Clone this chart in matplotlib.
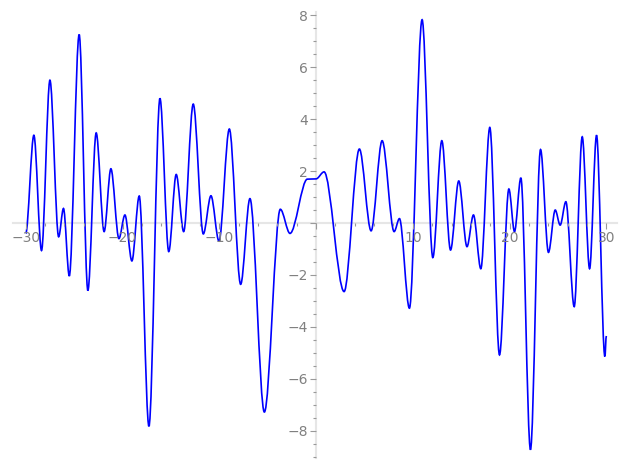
"""
Smooth wavy curve on origin-centred axes (Sage style).
Extrema read off the reference; drawn as cubic Bezier segments.
"""

import matplotlib
matplotlib.use("Agg")
import matplotlib.pyplot as plt
from matplotlib.path import Path
from matplotlib.patches import PathPatch
from matplotlib.ticker import MultipleLocator, FuncFormatter

# turning points of the curve (x, y)
x_pts = [-30.0, -29.16, -28.37, -27.5, -26.6, -26.1, -25.5, -24.48, -23.58,
         -22.72, -21.9, -21.2, -20.37, -19.75, -19.03, -18.27, -17.27, -16.13,
         -15.22, -14.45, -13.68, -12.69, -11.65, -10.86, -10.03, -8.96, -7.79,
         -6.83, -5.34, -3.69, -2.69, -0.9, 0.0, 0.83, 2.9, 4.48, 5.69, 6.83,
         8.07, 8.62, 9.65, 10.96, 12.07, 13.0, 13.9, 14.75, 15.6, 16.27, 17.03,
         17.96, 18.96, 19.93, 20.51, 21.17, 22.16, 23.2, 24.02, 24.72, 25.23,
         25.82, 26.68, 27.51, 28.27, 28.99, 29.85, 30.0]
y_pts = [-0.4, 3.38, -1.06, 5.5, -0.53, 0.56, -2.04, 7.26, -2.6,
         3.47, -0.33, 2.09, -0.6, 0.31, -1.46, 1.04, -7.83, 4.8,
         -1.1, 1.87, -0.33, 4.58, -0.42, 1.05, -0.7, 3.62, -2.36,
         0.94, -7.28, 0.53, -0.4, 1.69, 1.70, 1.97, -2.64, 2.85, -0.3, 3.17,
         -0.33, 0.17, -3.28, 7.83, -1.33, 3.17, -1.04, 1.62, -0.91, 0.31, -1.76,
         3.68, -5.08, 1.31, -0.33, 1.74, -8.73, 2.83, -1.13, 0.5, -0.08,
         0.82, -3.22, 3.32, -1.76, 3.38, -5.14, -4.35]

x_major = 10
x_minor = 2
y_major = 2
y_minor = 0.5

LABEL_GRAY = "#808080"
AXIS_GRAY = "#e6e6e6"


def curve_path(xs, ys):
    """Cubic Bezier through the turning points, flat tangent at each one."""
    verts = [(xs[0], ys[0])]
    codes = [Path.MOVETO]
    for i in range(1, len(xs)):
        dx = (xs[i] - xs[i - 1]) / 3.0
        verts += [(xs[i - 1] + dx, ys[i - 1]), (xs[i] - dx, ys[i]), (xs[i], ys[i])]
        codes += [Path.CURVE4] * 3
    return Path(verts, codes)


fig = plt.figure(figsize=(6.27, 4.69), dpi=100)
ax = fig.add_axes([0.021, 0.024, 0.963, 0.950])

ax.add_patch(PathPatch(curve_path(x_pts, y_pts), fill=False, edgecolor="#0000ff", lw=1.2))

ax.set_xlim(-31.3, 31.1)
ax.set_ylim(-9.04, 8.12)

for side in ("top", "right"):
    ax.spines[side].set_visible(False)
for side in ("left", "bottom"):
    ax.spines[side].set_position(("data", 0))
    ax.spines[side].set_color(AXIS_GRAY)
    ax.spines[side].set_linewidth(1.5)
ax.spines["left"].set_zorder(0)
ax.spines["bottom"].set_zorder(0)

ax.xaxis.set_major_locator(MultipleLocator(x_major))
ax.xaxis.set_minor_locator(MultipleLocator(x_minor))
ax.yaxis.set_major_locator(MultipleLocator(y_major))
ax.yaxis.set_minor_locator(MultipleLocator(y_minor))

no_zero = FuncFormatter(lambda v, _: "" if abs(v) < 1e-9 else f"{v:g}".replace("-", "\u2212"))
ax.xaxis.set_major_formatter(no_zero)
ax.yaxis.set_major_formatter(no_zero)

ax.tick_params(which="both", colors="#999999", labelcolor=LABEL_GRAY, labelsize=10, width=0.8)
ax.tick_params(which="major", length=4, pad=2)
ax.tick_params(which="minor", length=2.5)

fig.savefig("out.png", dpi=100)
